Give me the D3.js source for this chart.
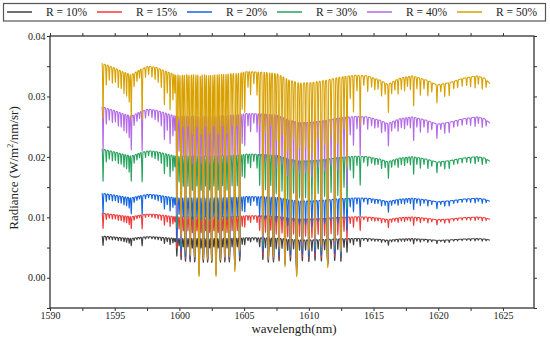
<!DOCTYPE html>
<html>
<head>
<meta charset="utf-8">
<script src="https://d3js.org/d3.v7.min.js"></script>
<style>
  body { margin: 0; background: #fff; }
  svg text { font-family: "Liberation Serif", "Times New Roman", serif; fill: #222; }
</style>
</head>
<body>
<svg id="chart" width="550" height="345" font-family="Liberation Serif, serif"></svg>
<script>
// ---- data ----
const seriesNames = ['R = 10%', 'R = 15%', 'R = 20%', 'R = 30%', 'R = 40%', 'R = 50%']
const seriesColors = ['#404040', '#ee3b3b', '#1565e0', '#27a35e', '#b36ae6', '#d9a100']
// continuum level of each series relative to the R = 50% curve
const seriesScale = [0.194, 0.301, 0.394, 0.600, 0.797, 1.0]
// how much the line cores of each series saturate (lower albedo -> shallower cores)
const seriesSaturation = [0.65, 0.38, 0.25, 0.12, 0.05, 0]

// continuum (upper envelope) of the R = 50% curve
const contWl  = [1594.0, 1595.0, 1595.6, 1596.3, 1597.0, 1597.6, 1598.2, 1599.4, 1600.0, 1602.0, 1604.4, 1605.2, 1606.5, 1607.5, 1608.5, 1609.3, 1610.3, 1611.4, 1612.4, 1613.6, 1614.5, 1615.5, 1616.1, 1617.0, 1618.0, 1619.1, 1619.9, 1620.9, 1621.9, 1623.0, 1623.6, 1624.0]
const contVal = [0.0355, 0.0347, 0.0341, 0.0336, 0.0345, 0.0350, 0.0348, 0.0338, 0.0336, 0.0337, 0.0338, 0.0341, 0.0340, 0.0338, 0.0327, 0.0322, 0.0323, 0.0327, 0.0332, 0.0335, 0.0334, 0.0327, 0.0320, 0.0330, 0.0334, 0.0327, 0.0319, 0.0323, 0.0330, 0.0334, 0.0330, 0.0321]

// absorption lines: centre wavelength and optical depth at the core (R = 50% curve)
const lineWl = [
  1594.10, 1594.35, 1594.58, 1594.82, 1595.05, 1595.28, 1595.50, 1595.72, 1595.92, 1596.12,
  1596.28, 1596.50, 1596.72, 1596.92, 1597.12, 1597.38, 1597.62, 1597.88, 1598.12, 1598.36,
  1598.60, 1598.84, 1599.06, 1599.28, 1599.50, 1599.65,
  1599.80, 1599.97, 1600.13, 1600.30, 1600.47, 1600.66, 1600.83, 1601.00, 1601.18, 1601.35,
  1601.52, 1601.68, 1601.85, 1602.02, 1602.18, 1602.34, 1602.50, 1602.66, 1602.83, 1603.00,
  1603.17, 1603.34, 1603.51, 1603.68, 1603.86, 1604.07, 1604.28, 1604.47, 1604.66, 1604.85,
  1605.05, 1605.30, 1605.50, 1605.75, 1606.00, 1606.20,
  1606.45, 1606.65, 1606.87, 1607.06, 1607.27, 1607.48, 1607.70, 1607.93, 1608.16, 1608.37,
  1608.58, 1608.82, 1609.06, 1609.28, 1609.50, 1609.75, 1610.00, 1610.24, 1610.48, 1610.72,
  1610.97, 1611.22, 1611.46, 1611.72, 1612.00, 1612.24, 1612.48, 1612.72, 1612.95, 1613.20,
  1613.45, 1613.72, 1613.97, 1614.25, 1614.55, 1614.85, 1615.10, 1615.35, 1615.62, 1615.90,
  1616.15, 1616.40, 1616.65, 1616.90, 1617.15, 1617.40, 1617.62, 1617.85, 1618.10, 1618.35,
  1618.62, 1618.90, 1619.20, 1619.50, 1619.90, 1620.20, 1620.50, 1620.85, 1621.20, 1621.50,
  1621.85, 1622.20, 1622.50, 1622.85, 1623.10, 1623.40, 1623.70
]
const lineTau = [
  0.30, 0.10, 0.07, 0.08, 0.07, 0.09, 0.09, 0.11, 0.12, 0.15,
  0.24, 0.07, 0.05, 0.04, 0.28, 0.05, 0.04, 0.05, 0.06, 0.07,
  0.09, 0.18, 0.11, 0.20, 0.14, 0.10,
  1.00, 0.25, 1.60, 0.30, 2.00, 0.30, 2.20, 0.35, 2.30, 0.30,
  5.00, 0.35, 2.40, 0.30, 2.40, 0.35, 2.50, 0.30, 5.00, 0.35,
  2.40, 0.30, 2.30, 0.35, 2.30, 0.30, 3.50, 0.30, 2.00, 0.20,
  0.22, 0.08, 0.12, 0.06, 0.12, 0.30,
  1.60, 0.35, 2.40, 0.30, 2.30, 0.40, 1.90, 0.35, 2.90, 0.45,
  1.80, 0.35, 5.00, 0.40, 1.70, 0.40, 1.90, 0.45, 1.60, 0.35,
  1.80, 0.40, 3.00, 0.35, 1.70, 0.40, 2.00, 0.30, 0.60, 0.12,
  0.20, 0.08, 0.28, 0.05, 0.08, 0.05, 0.06, 0.05, 0.08, 0.06,
  0.16, 0.06, 0.05, 0.08, 0.06, 0.07, 0.05, 0.07, 0.16, 0.06,
  0.09, 0.05, 0.08, 0.05, 0.10, 0.04, 0.07, 0.07, 0.04, 0.04,
  0.04, 0.04, 0.05, 0.06, 0.04, 0.06, 0.04
]
const lineSigma = 0.034   // nm
const wlStart = 1594.0, wlEnd = 1624.0, wlStep = 0.008

const xTicks = d3.range(1590, 1627.5, 2.5)
const yTicks = d3.range(-0.005, 0.0401, 0.005)

// ---- layout ----
const width = 550, height = 345
const margin = { top: 36, right: 16, bottom: 37, left: 50 }
const boundedWidth = width - margin.left - margin.right
const boundedHeight = height - margin.top - margin.bottom

const svg = d3.select('#chart')

// ---- build the spectra ----
const contScale = d3.scaleLinear().domain(contWl).range(contVal)
const grid = d3.range(wlStart, wlEnd + wlStep / 2, wlStep)
const tauGrid = grid.map(w => {
  let t = 0
  for (let i = 0; i < lineWl.length; i++) {
    const d = (w - lineWl[i]) / lineSigma
    if (Math.abs(d) < 5) t += lineTau[i] * Math.exp(-d * d)
  }
  return t
})
const series = seriesNames.map((name, i) => ({
  name: name,
  color: seriesColors[i],
  values: grid.map((w, j) => {
    const t = tauGrid[j]
    return { wl: w, v: seriesScale[i] * contScale(w) * Math.exp(-t / (1 + seriesSaturation[i] * t)) }
  })
}))

// ---- scales ----
const xScale = d3.scaleLinear().domain([1590, 1627.4]).range([0, boundedWidth])
const yScale = d3.scaleLinear().domain([-0.005, 0.04]).range([boundedHeight, 0])

const graph = svg.append('g')
  .attr('transform', `translate(${margin.left}, ${margin.top})`)

const line = d3.line()
  .x(d => xScale(d.wl))
  .y(d => yScale(d.v))

graph.selectAll('path.series')
  .data(series)
  .enter()
  .append('path')
  .attr('class', 'series')
  .attr('d', d => line(d.values))
  .attr('fill', 'none')
  .attr('stroke', d => d.color)
  .attr('stroke-width', 1.05)
  .attr('stroke-linejoin', 'round')

// ---- axes ----
const isMajorX = d => Math.abs(d % 5) < 1e-6
const isMajorY = d => Math.abs(Math.round(d * 1000) % 10) === 0

const gX = graph.append('g').attr('transform', `translate(0, ${boundedHeight})`)
  .call(d3.axisBottom(xScale).tickValues(xTicks).tickSize(3).tickSizeOuter(0)
    .tickFormat(d => isMajorX(d) ? d : ''))
const gXTop = graph.append('g')
  .call(d3.axisTop(xScale).tickValues(xTicks).tickSize(3).tickSizeOuter(0).tickFormat(''))
const gY = graph.append('g')
  .call(d3.axisLeft(yScale).tickValues(yTicks).tickSize(3).tickSizeOuter(0)
    .tickFormat(d => isMajorY(d) ? d3.format('.2f')(Math.abs(d) < 1e-9 ? 0 : d) : ''))
const gYRight = graph.append('g').attr('transform', `translate(${boundedWidth}, 0)`)
  .call(d3.axisRight(yScale).tickValues(yTicks).tickSize(3).tickSizeOuter(0).tickFormat(''))

;[gX, gXTop, gY, gYRight].forEach(g => {
  g.attr('font-family', null)
  g.select('.domain').remove()
  g.selectAll('line').attr('stroke', '#333').attr('stroke-width', 1)
  g.selectAll('text').style('font-size', '10px').attr('fill', '#222')
    .style('font-family', '"Liberation Serif", "Times New Roman", serif')
})
gX.selectAll('text').attr('y', 4).attr('dy', '0.71em')
gY.selectAll('text').attr('x', -4.5)

// frame
graph.append('rect')
  .attr('width', boundedWidth)
  .attr('height', boundedHeight)
  .attr('fill', 'none')
  .attr('stroke', '#333')
  .attr('stroke-width', 1.3)

// axis labels
svg.append('text')
  .attr('x', margin.left + boundedWidth / 2 + 2)
  .attr('y', 333)
  .attr('text-anchor', 'middle')
  .style('font-size', '13px')
  .text('wavelength(nm)')

const yLabel = svg.append('text')
  .attr('transform', `translate(18, ${margin.top + boundedHeight / 2 - 4}) rotate(-90)`)
  .attr('text-anchor', 'middle')
  .style('font-size', '13px')
yLabel.append('tspan').text('Radiance (W/m')
yLabel.append('tspan').attr('dy', -5).style('font-size', '8px').text('2')
yLabel.append('tspan').attr('dy', 5).text('/nm/sr)')

// ---- legend ----
const legend = svg.append('g')
legend.append('rect')
  .attr('x', 3.5).attr('y', 3.5)
  .attr('width', 542).attr('height', 17.5)
  .attr('fill', 'none')
  .attr('stroke', '#555')
  .attr('stroke-width', 1.2)

const items = legend.selectAll('g.item')
  .data(series)
  .enter()
  .append('g')
  .attr('class', 'item')
  .attr('transform', (d, i) => `translate(${7 + i * 90}, 12)`)
items.append('line')
  .attr('x1', 0).attr('x2', 25)
  .attr('stroke', d => d.color)
  .attr('stroke-width', 1.5)
items.append('text')
  .attr('x', 39)
  .attr('y', 4)
  .style('font-size', '11.5px')
  .text(d => d.name)
</script>
</body>
</html>
